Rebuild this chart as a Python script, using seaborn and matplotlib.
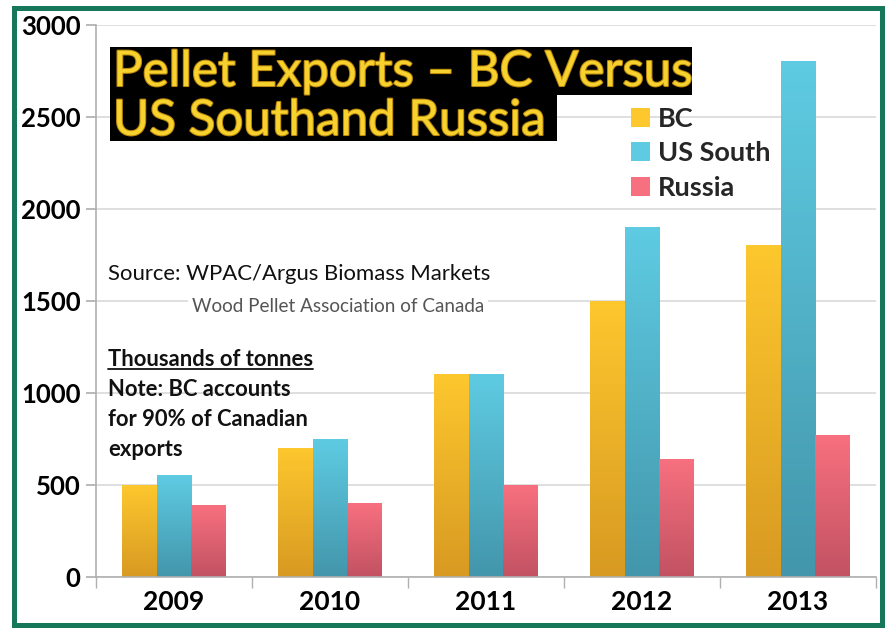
import numpy as np
import pandas as pd
import matplotlib
matplotlib.use('Agg')
import matplotlib.pyplot as plt
import matplotlib.patheffects as pe
import seaborn as sns
from matplotlib.patches import Rectangle, Patch
from matplotlib.lines import Line2D
from matplotlib.colors import LinearSegmentedColormap

# data, thousands of tonnes
years = ['2009', '2010', '2011', '2012', '2013']
bc = [500, 700, 1100, 1500, 1800]
us_south = [550, 750, 1100, 1900, 2800]
russia = [390, 400, 500, 640, 770]
series = ['BC', 'US South', 'Russia']
yticks = [0, 500, 1000, 1500, 2000, 2500, 3000]

top_colors = ['#fdc72e', '#5ecbe2', '#f7707f']
bottom_colors = ['#d89a22', '#4396ab', '#c25262']

df = pd.DataFrame({
    'year': years * 3,
    'region': [s for s in series for _ in years],
    'value': bc + us_south + russia,
})

sns.set_theme(style='white')
plt.rcParams['font.family'] = ['Lato', 'DejaVu Sans']

W, H = 886, 629
fig = plt.figure(figsize=(W / 100, H / 100), dpi=100)


def fx(x):
    return x / W


def fy(y):
    return 1 - y / H


ax = fig.add_axes([fx(96), fy(577), (876 - 96) / W, (577 - 25) / H])
sns.barplot(data=df, x='year', y='value', hue='region', palette=top_colors,
            width=0.67, saturation=1, legend=False, ax=ax)

# vertical gradient fill on each bar
grad = np.linspace(0, 1, 100).reshape(-1, 1)
for i, bar in enumerate(list(ax.patches)):
    k = i // len(years)
    cmap = LinearSegmentedColormap.from_list('g%d' % k, [bottom_colors[k], top_colors[k]])
    x0, y0 = bar.get_x(), bar.get_y()
    w, h = bar.get_width(), bar.get_height()
    ax.imshow(grad, extent=[x0, x0 + w, y0, y0 + h], origin='lower',
              aspect='auto', cmap=cmap, zorder=2)
    bar.set_visible(False)

ax.set_xlim(-0.5, 4.5)
ax.set_ylim(0, 3000)
ax.set_yticks(yticks)
ax.set_yticklabels([str(t) for t in yticks], fontweight='bold', fontsize=18.5)
ax.set_xticks(range(len(years)))
ax.set_xticklabels(years, fontweight='bold', fontsize=19)
ax.set_xticks([i - 0.5 for i in range(len(years) + 1)], minor=True)
ax.set_xlabel('')
ax.set_ylabel('')

ax.yaxis.grid(True, color='#d9d9d9', lw=1.2)
ax.set_axisbelow(True)
ax.tick_params(axis='y', left=True, length=7, color='#b0b0b0', pad=4, labelcolor='black')
ax.tick_params(axis='x', which='major', bottom=True, length=0, pad=9, labelcolor='black')
ax.tick_params(axis='x', which='minor', bottom=True, length=8, color='#b0b0b0')
for s in ['top', 'right']:
    ax.spines[s].set_visible(False)
for s in ['left', 'bottom']:
    ax.spines[s].set_color('#b0b0b0')
    ax.spines[s].set_linewidth(1.2)

# title on black boxes
fig.patches.append(Rectangle((fx(110), fy(95)), (692 - 110) / W, (95 - 47) / H,
                             transform=fig.transFigure, fc='black', ec='none', zorder=2))
fig.patches.append(Rectangle((fx(110), fy(141)), (557 - 110) / W, (141 - 94) / H,
                             transform=fig.transFigure, fc='black', ec='none', zorder=2))
glow = [pe.withStroke(linewidth=1.5, foreground='#b8860b')]
fig.text(fx(113), fy(86), 'Pellet Exports – BC Versus', fontsize=35.5, color='#f7d22e',
         va='baseline', ha='left', path_effects=glow, zorder=4)
fig.text(fx(113), fy(135), 'US Southand Russia', fontsize=35.5, color='#f7d22e',
         va='baseline', ha='left', path_effects=glow, zorder=4)

# legend
handles = [Patch(facecolor=c, edgecolor='none') for c in top_colors]
fig.legend(handles, series, loc='upper left', bbox_to_anchor=(fx(631), fy(107)),
           frameon=False, prop={'weight': 'bold', 'size': 19.5},
           handlelength=0.7, handleheight=0.7, handletextpad=0.3, labelspacing=0.38,
           borderaxespad=0, borderpad=0)

# notes
fig.text(fx(108), fy(274), 'Source: WPAC/Argus Biomass Markets', fontsize=15.9,
         color='#111111', va='center')
fig.text(fx(192), fy(306), 'Wood Pellet Association of Canada', fontsize=13.6,
         color='#555555', va='center',
         bbox=dict(facecolor='white', edgecolor='none', pad=3))
tt = fig.text(fx(108), fy(360), 'Thousands of tonnes', fontsize=15.8,
              fontweight='bold', color='#111111', va='center')
for yy, line in zip([390, 420, 450], ['Note: BC accounts', 'for 90% of Canadian', 'exports']):
    fig.text(fx(108), fy(yy), line, fontsize=15.8, fontweight='bold',
             color='#111111', va='center')

# underline for the units line
fig.canvas.draw()
bb = tt.get_window_extent().transformed(fig.transFigure.inverted())
fig.add_artist(Line2D([bb.x0, bb.x1], [bb.y0 + 0.002, bb.y0 + 0.002],
                      transform=fig.transFigure, color='#111111', lw=1.3))

# green frame
fig.patches.append(Rectangle((fx(13.5), fy(624.5)), (882 - 13.5) / W, (624.5 - 7.5) / H,
                             transform=fig.transFigure, fill=False, ec='#17775b', lw=3.6,
                             zorder=5))

fig.savefig('out.png', dpi=100)
